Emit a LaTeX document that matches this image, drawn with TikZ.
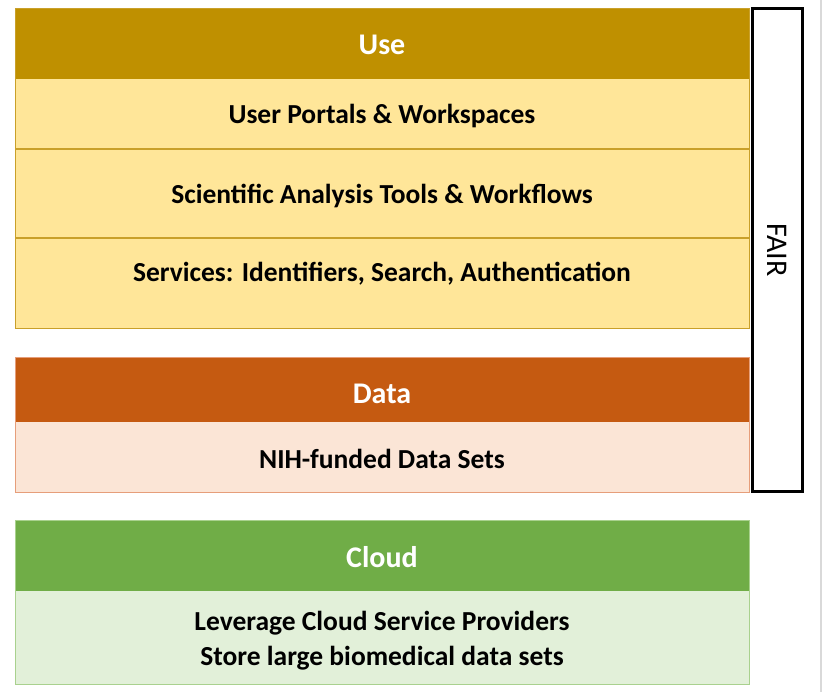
\documentclass[tikz,border=0pt]{standalone}
\usepackage{fontspec}
\setmainfont{Carlito}

\definecolor{usedark}{HTML}{BF9000}
\definecolor{uselight}{HTML}{FFE699}
\definecolor{useline}{HTML}{C9A02A}
\definecolor{datadark}{HTML}{C55A11}
\definecolor{datalight}{HTML}{FBE5D6}
\definecolor{dataline}{HTML}{E69E7A}
\definecolor{clouddark}{HTML}{70AD47}
\definecolor{cloudlight}{HTML}{E2F0D9}
\definecolor{cloudline}{HTML}{A9D18E}

\tikzset{
  head/.style = {text=white, font=\bfseries\fontsize{30}{34}\selectfont},
  item/.style = {text=black, font=\bfseries\fontsize{27.5}{35}\selectfont, align=center}
}

\begin{document}
\begin{tikzpicture}[x=1pt, y=1pt]

\useasboundingbox[fill=white] (0,0) rectangle (827,-692);

% Use
\fill[uselight] (15,-79) rectangle (749,-328);
\fill[usedark] (15,-8) rectangle (749,-79);
\draw[useline, line width=1.5pt] (15,-149) -- (749,-149);
\draw[useline, line width=1.5pt] (15,-238) -- (749,-238);
\draw[useline] (15,-8) rectangle (749,-328);

\node[head] (use) at (382,-45) {Use};
\node[item] (portals) at (382,-116) {User Portals \& Workspaces};
\node[item] (tools) at (382,-196) {Scientific Analysis Tools \& Workflows};
\node[item] (services) at (382,-274) {Services: Identifiers, Search, Authentication};

% Data
\fill[datalight] (15,-422) rectangle (749,-492);
\fill[datadark] (15,-357) rectangle (749,-422);
\draw[dataline] (15,-357) rectangle (749,-492);

\node[head] (data) at (382,-394) {Data};
\node[item] (datasets) at (382,-459) {NIH-funded Data Sets};

% Cloud
\fill[cloudlight] (15,-591) rectangle (749,-684);
\fill[clouddark] (15,-520) rectangle (749,-591);
\draw[cloudline] (15,-520) rectangle (749,-684);

\node[head] (cloud) at (382,-557) {Cloud};
\node[item] (providers) at (382,-641) {Leverage Cloud Service Providers\\Store large biomedical data sets};

% FAIR
\draw[line width=3pt, fill=white] (752,-9) rectangle (802,-491);
\node[rotate=-90, font=\fontsize{30}{34}\selectfont] (fair) at (777,-250) {FAIR};

\draw[black!15, line width=1.5pt] (821,0) -- (821,-692);

\end{tikzpicture}
\end{document}
